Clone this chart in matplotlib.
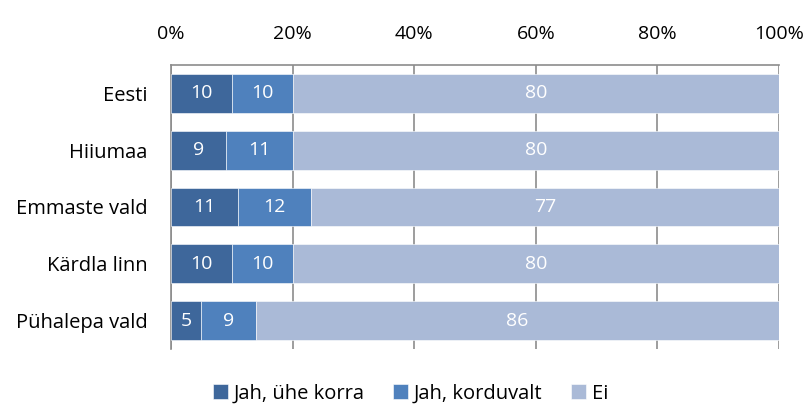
import numpy as np
import matplotlib
matplotlib.use("Agg")
import matplotlib.pyplot as plt

plt.rcParams['font.family'] = ['Open Sans', 'DejaVu Sans']

categories = ["Eesti", "Hiiumaa", "Emmaste vald", "Kärdla linn", "Pühalepa vald"]
series_names = ["Jah, ühe korra", "Jah, korduvalt", "Ei"]
once = [10, 9, 11, 10, 5]
repeated = [10, 11, 12, 10, 9]
never = [80, 80, 77, 80, 86]
colors = ["#3E679B", "#4F81BD", "#AABAD7"]

fig = plt.figure(figsize=(8.08, 4.07), dpi=100)
ax = fig.add_axes([171 / 808, 58 / 407, 608 / 808, 284 / 407])

y = np.arange(len(categories))
left = np.zeros(len(categories))
for name, vals, col in zip(series_names, [once, repeated, never], colors):
    vals = np.array(vals, dtype=float)
    ax.barh(y, vals, left=left, height=0.68, color=col, label=name,
            edgecolor="white", linewidth=0.4, zorder=3)
    for yi, l, v in zip(y, left, vals):
        ax.text(l + v / 2, yi, f"{v:.0f}", ha="center", va="center",
                color="white", fontsize=14, zorder=4)
    left += vals

ax.set_xlim(0, 100)
ax.set_ylim(len(categories) - 0.5, -0.5)
ax.set_yticks(y)
ax.set_yticklabels(categories, fontsize=14.5)
ax.set_xticks(np.arange(0, 101, 20))
ax.set_xticklabels([f"{t}%" for t in range(0, 101, 20)], fontsize=14)
ax.xaxis.tick_top()
ax.tick_params(axis="x", length=0, pad=16)
ax.tick_params(axis="y", length=0, pad=17)
ax.grid(axis="x", color="#8C8C8C", linewidth=1.2, zorder=0)

for side in ["right", "bottom"]:
    ax.spines[side].set_visible(False)
for side in ["top", "left"]:
    ax.spines[side].set_color("#8C8C8C")
    ax.spines[side].set_linewidth(1.2)

fig.legend(loc="lower center", bbox_to_anchor=(0.508, -0.036), ncol=3,
           frameon=False, fontsize=14.5, handlelength=0.75, handleheight=0.75,
           handletextpad=0.3, columnspacing=1.4)

fig.savefig("out.png", dpi=100)
